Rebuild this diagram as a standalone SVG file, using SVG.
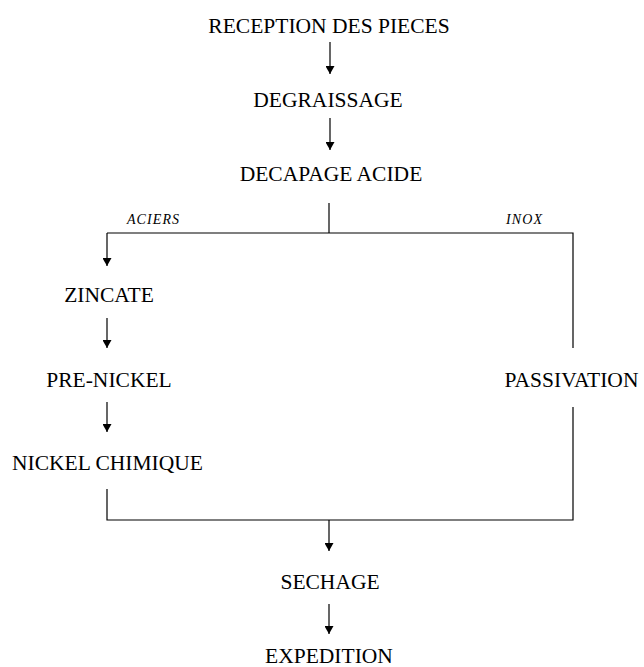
<svg xmlns="http://www.w3.org/2000/svg" width="644" height="667" viewBox="0 0 644 667">
<defs>
<style>
.t{font-size:21.5px;fill:#000;text-anchor:middle}
.i{font-size:14px;font-style:italic;fill:#000}
.c{stroke:#000;stroke-width:1.2;fill:none}
</style>
<marker id="ah" markerWidth="9" markerHeight="9" refX="8" refY="4.5" orient="auto" markerUnits="userSpaceOnUse">
<path d="M0,0 L8,4.5 L0,9 Z" fill="#000"/>
</marker>
</defs>
<rect width="644" height="667" fill="#fff"/>
<g id="connectors" font-family="'Liberation Serif', 'Times New Roman', serif">
<line class="c" x1="330" y1="42" x2="330" y2="74" marker-end="url(#ah)"/>
<line class="c" x1="330" y1="118" x2="330" y2="150" marker-end="url(#ah)"/>
<line class="c" x1="329" y1="203" x2="329" y2="233"/>
<polyline class="c" points="107,233 573,233 573,348"/>
<line class="c" x1="107" y1="233" x2="107" y2="266" marker-end="url(#ah)"/>
<line class="c" x1="107" y1="318" x2="107" y2="348" marker-end="url(#ah)"/>
<line class="c" x1="107" y1="402" x2="107" y2="432" marker-end="url(#ah)"/>
<polyline class="c" points="107,489 107,520 573,520 573,407"/>
<line class="c" x1="329" y1="520" x2="329" y2="551" marker-end="url(#ah)"/>
<line class="c" x1="329" y1="604" x2="329" y2="634" marker-end="url(#ah)"/>
<text class="i" x="127" y="224" textLength="52" lengthAdjust="spacing">ACIERS</text>
<text class="i" x="506" y="224" textLength="36" lengthAdjust="spacing">INOX</text>
</g>
<g font-family="'Liberation Serif', 'Times New Roman', serif">
<g id="reception"><text class="t" x="329" y="33">RECEPTION DES PIECES</text></g>
<g id="degraissage"><text class="t" x="328" y="107">DEGRAISSAGE</text></g>
<g id="decapage"><text class="t" x="331" y="181">DECAPAGE ACIDE</text></g>
<g id="zincate"><text class="t" x="109" y="302">ZINCATE</text></g>
<g id="prenickel"><text class="t" x="109" y="387">PRE-NICKEL</text></g>
<g id="nickel"><text class="t" x="107.5" y="470">NICKEL CHIMIQUE</text></g>
<g id="passivation"><text class="t" x="571.5" y="387">PASSIVATION</text></g>
<g id="sechage"><text class="t" x="330" y="589">SECHAGE</text></g>
<g id="expedition"><text class="t" x="329" y="663">EXPEDITION</text></g>
</g>
</svg>
